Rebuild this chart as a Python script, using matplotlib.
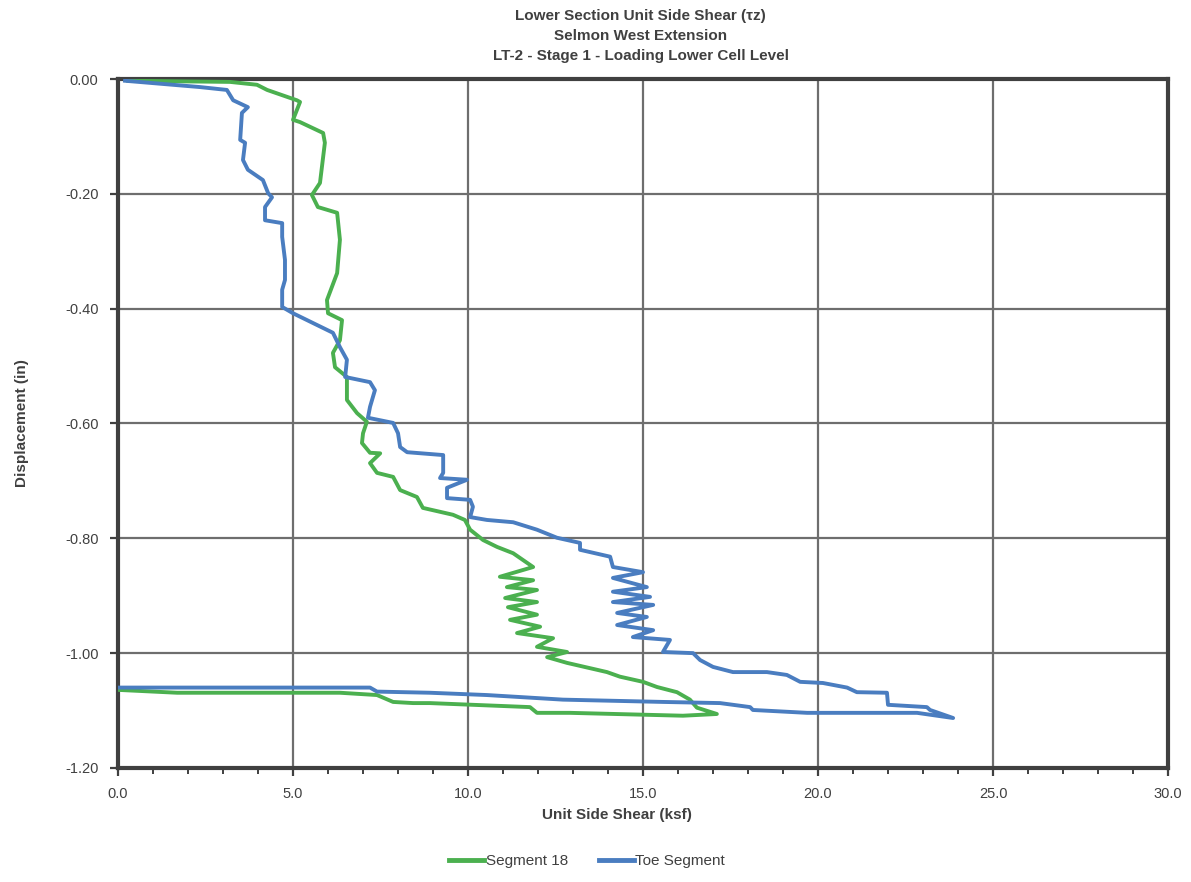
#!/usr/bin/env python3
"""
Lower section unit side shear (tz) curves, LT-2 stage 1 loading.
Writes out.png.
"""

import matplotlib
matplotlib.use("Agg")
import matplotlib.pyplot as plt
from matplotlib.ticker import MultipleLocator, FormatStrFormatter


# ── colours ────────────────────────────────────────────────────────────────
C_SEG18 = "#4bb04f"   # green — Segment 18
C_TOE   = "#4a7dc0"   # blue  — Toe Segment
C_AXIS  = "#404040"
C_GRID  = "#6e6e6e"
C_TEXT  = "#404040"

# ── data ───────────────────────────────────────────────────────────────────
seg18_shear = [
    0.29, 3.2, 3.97, 4.26, 5.11, 5.2, 5.11, 5.0, 5.2, 5.86, 5.91, 5.77, 5.54,
    5.71, 6.26, 6.34, 6.26, 5.97, 6.0, 6.4, 6.34, 6.14, 6.2, 6.54, 6.54, 6.83,
    7.11, 7.0, 6.97, 7.2, 7.49, 7.2, 7.4, 7.86, 8.06, 8.54, 8.71, 9.57, 9.91,
    10.06, 10.43, 10.83, 11.29, 11.86, 10.91, 11.86, 11.11, 11.97, 11.06,
    11.97, 11.14, 11.97, 11.2, 12.06, 11.4, 12.43, 11.97, 12.83, 12.26, 12.83,
    13.97, 14.34, 15.0, 15.4, 15.97, 16.34, 16.54, 17.11,
    16.14, 12.91, 11.97, 11.77, 8.91, 8.43, 7.86, 7.4, 6.34, 1.69, 0.0,
]
seg18_disp = [
    -0.003, -0.005, -0.010, -0.019, -0.037, -0.040, -0.054, -0.071, -0.075,
    -0.094, -0.111, -0.181, -0.202, -0.223, -0.233, -0.280, -0.338, -0.385,
    -0.408, -0.420, -0.455, -0.477, -0.502, -0.519, -0.559, -0.582, -0.597,
    -0.617, -0.634, -0.651, -0.652, -0.669, -0.686, -0.693, -0.716, -0.728,
    -0.747, -0.759, -0.768, -0.785, -0.803, -0.815, -0.826, -0.850, -0.867,
    -0.873, -0.885, -0.890, -0.904, -0.911, -0.920, -0.933, -0.942, -0.954,
    -0.965, -0.974, -0.989, -0.998, -1.007, -1.017, -1.033, -1.041, -1.050,
    -1.059, -1.068, -1.081, -1.095, -1.106,
    -1.109, -1.104, -1.104, -1.094, -1.087, -1.087, -1.085, -1.073, -1.069,
    -1.069, -1.064,
]

toe_shear = [
    0.2, 2.34, 3.11, 3.29, 3.57, 3.71, 3.54, 3.49, 3.63, 3.57, 3.71, 4.14, 4.29,
    4.4, 4.2, 4.2, 4.69, 4.69, 4.77, 4.77, 4.69, 4.69, 5.0, 5.57, 6.14, 6.34,
    6.54, 6.49, 7.2, 7.34, 7.2, 7.14, 7.86, 8.0, 8.06, 8.26, 9.29, 9.29, 9.2,
    9.97, 9.4, 9.4, 10.06, 10.14, 10.06, 10.54, 11.29, 11.97, 12.54, 13.2,
    13.2, 14.06, 14.14, 15.0, 14.14, 15.11, 14.14, 15.2, 14.14, 15.29, 14.26,
    15.11, 14.26, 15.29, 14.71, 15.77, 15.57, 16.43, 16.63, 17.0, 17.57, 18.54,
    19.11, 19.49, 20.14, 20.83, 21.11, 21.97, 22.0, 23.11, 23.2, 23.86,
    22.83, 19.69, 18.14, 18.06, 17.2, 15.57, 12.71, 10.54, 8.91, 7.4, 7.2, 0.0,
]
toe_disp = [
    -0.003, -0.014, -0.019, -0.037, -0.045, -0.049, -0.059, -0.106, -0.111,
    -0.141, -0.158, -0.176, -0.199, -0.206, -0.223, -0.246, -0.251, -0.275,
    -0.315, -0.350, -0.367, -0.397, -0.408, -0.425, -0.442, -0.467, -0.489,
    -0.519, -0.528, -0.542, -0.571, -0.590, -0.599, -0.617, -0.641, -0.650,
    -0.655, -0.686, -0.695, -0.698, -0.712, -0.730, -0.733, -0.745, -0.763,
    -0.768, -0.772, -0.785, -0.799, -0.808, -0.820, -0.832, -0.850, -0.859,
    -0.869, -0.885, -0.893, -0.902, -0.911, -0.916, -0.930, -0.937, -0.951,
    -0.960, -0.972, -0.977, -0.998, -1.000, -1.012, -1.024, -1.033, -1.033,
    -1.038, -1.050, -1.052, -1.060, -1.068, -1.069, -1.090, -1.094, -1.099,
    -1.113,
    -1.104, -1.104, -1.099, -1.094, -1.087, -1.085, -1.081, -1.073, -1.069,
    -1.067, -1.060, -1.060,
]

TITLE = ("Lower Section Unit Side Shear (\u03c4z)\n"
         "Selmon West Extension\n"
         "LT-2 - Stage 1 - Loading Lower Cell Level")

FONT = ["Liberation Sans", "DejaVu Sans"]


def build_figure():
    plt.rcParams["font.family"] = FONT
    fig = plt.figure(figsize=(11.91, 8.82), dpi=100)
    ax = fig.add_axes([0.0991, 0.1293, 0.8816, 0.7811])

    ax.set_xlim(0, 30)
    ax.set_ylim(-1.2, 0)
    ax.xaxis.set_major_locator(MultipleLocator(5))
    ax.xaxis.set_minor_locator(MultipleLocator(1))
    ax.yaxis.set_major_locator(MultipleLocator(0.2))
    ax.xaxis.set_major_formatter(FormatStrFormatter("%.1f"))
    ax.yaxis.set_major_formatter(FormatStrFormatter("%.2f"))

    ax.grid(True, which="major", color=C_GRID, lw=1.6)
    ax.set_axisbelow(True)

    for sp in ax.spines.values():
        sp.set_color(C_AXIS)
        sp.set_linewidth(3.0)

    ax.tick_params(which="both", direction="out", color=C_AXIS,
                   labelcolor=C_TEXT, labelsize=10.5)
    ax.tick_params(which="major", length=6, width=1.6, pad=8)
    ax.tick_params(which="minor", length=4, width=1.4)

    ax.set_xlabel("Unit Side Shear (ksf)", fontsize=11, fontweight="bold",
                  color=C_TEXT)
    ax.xaxis.set_label_coords(0.475, -0.058)
    ax.set_ylabel("Displacement (in)", fontsize=11, fontweight="bold",
                  color=C_TEXT, labelpad=26)

    fig.text(0.538, 0.99, TITLE, ha="center", va="top", fontsize=11,
             fontweight="bold", color=C_TEXT, linespacing=1.55)
    return fig, ax


def main():
    fig, ax = build_figure()

    ax.plot(seg18_shear, seg18_disp, "-", color=C_SEG18, lw=2.8,
            label="Segment 18", zorder=3)
    ax.plot(toe_shear, toe_disp, "-", color=C_TOE, lw=2.8,
            label="Toe Segment", zorder=4)

    leg = fig.legend(loc="lower center", bbox_to_anchor=(0.493, 0.0), ncol=2,
                     frameon=False, fontsize=11, handlelength=2.3,
                     handletextpad=0.1, columnspacing=2.0)
    for line in leg.get_lines():
        line.set_linewidth(3.5)
    for t in leg.get_texts():
        t.set_color(C_TEXT)

    fig.savefig("out.png", dpi=100)


if __name__ == "__main__":
    main()
